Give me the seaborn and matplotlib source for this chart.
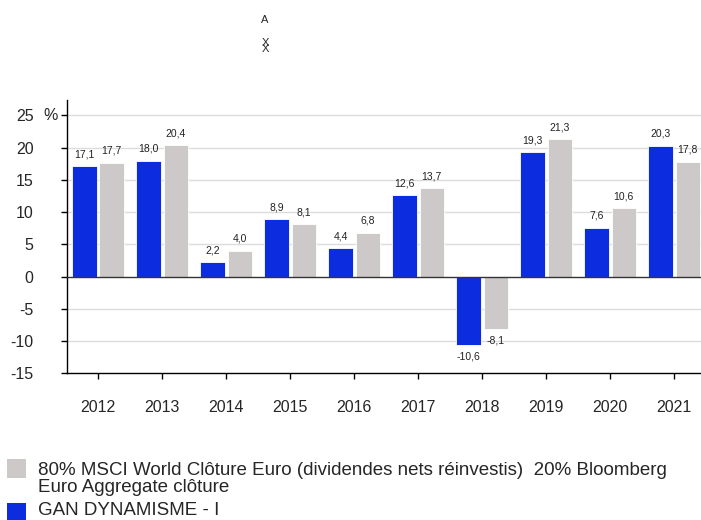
import matplotlib
matplotlib.use('Agg')
import matplotlib.pyplot as plt
import seaborn as sns
import pandas as pd
from matplotlib.patches import Rectangle

years = ['2012', '2013', '2014', '2015', '2016', '2017', '2018', '2019', '2020', '2021']
fund_name = 'GAN DYNAMISME - I'
bench_name = '80% MSCI World Clôture Euro (dividendes nets réinvestis)  20% Bloomberg\nEuro Aggregate clôture'
fund_values = [17.1, 18.0, 2.2, 8.9, 4.4, 12.6, -10.6, 19.3, 7.6, 20.3]
bench_values = [17.7, 20.4, 4.0, 8.1, 6.8, 13.7, -8.1, 21.3, 10.6, 17.8]
y_ticks = [-15, -10, -5, 0, 5, 10, 15, 20, 25]

fund_color = '#0c2ce0'
bench_color = '#cdc9c9'


def fmt(v):
    return f"{v:.1f}".replace('.', ',')


def main():
    df = pd.DataFrame({
        'Year': years * 2,
        'Value': fund_values + bench_values,
        'Series': [fund_name] * len(years) + [bench_name] * len(years),
    })

    sns.set_style('white')
    plt.rcParams['font.family'] = ['Liberation Sans', 'DejaVu Sans']

    fig = plt.figure(figsize=(7.01, 5.2), dpi=100)
    ax = fig.add_axes([0.0956, 0.2821, 0.9044, 0.5256])

    sns.barplot(data=df, x='Year', y='Value', hue='Series',
                hue_order=[fund_name, bench_name],
                palette=[fund_color, bench_color], saturation=1,
                width=0.85, gap=0.11, edgecolor='white', linewidth=0.6,
                legend=False, ax=ax, zorder=3)

    ax.set_xlim(-0.484, 9.42)
    ax.set_ylim(-15, 27.4)
    ax.set_yticks(y_ticks)
    ax.set_yticklabels([str(t) for t in y_ticks])
    ax.set_xlabel('')
    ax.set_ylabel('')

    for t in y_ticks:
        if t != 0 and t != -15:
            ax.axhline(t, color='#dcdcdc', lw=1.0, zorder=1)
    ax.axhline(0, color='#333333', lw=1.0, zorder=4)

    for side in ['top', 'right']:
        ax.spines[side].set_visible(False)
    ax.spines['left'].set_color('black')
    ax.spines['bottom'].set_color('black')
    ax.spines['left'].set_linewidth(1.0)
    ax.spines['bottom'].set_linewidth(1.0)

    ax.tick_params(axis='y', direction='out', length=4, width=1, color='black',
                   pad=20, labelsize=11.5, left=True)
    ax.tick_params(axis='x', direction='out', length=4, width=1, color='black',
                   pad=15, labelsize=11.5, bottom=True)

    labels_per_series = [[fmt(v) for v in fund_values], [fmt(v) for v in bench_values]]
    for cont, labs in zip(ax.containers, labels_per_series):
        ax.bar_label(cont, labels=labs, padding=5, fontsize=7.5, color='#222222')

    # unit marker between the tick labels and the axis
    fig.text(51 / 701, 1 - 116 / 520, '%', fontsize=11.5, ha='center', va='center')

    # stray marks at the top of the original
    fig.text(265 / 701, 1 - 20 / 520, 'A', fontsize=8, ha='center', va='center')
    fig.text(265 / 701, 1 - 46 / 520, 'X\nX', fontsize=8, ha='center', va='center',
             linespacing=0.55)

    # legend
    leg_items = [(bench_color, bench_name, 459, 462), (fund_color, fund_name, 503, 502)]
    for color, label, sq_top, txt_top in leg_items:
        fig.patches.append(Rectangle((7 / 701, 1 - (sq_top + 19) / 520), 19 / 701, 19 / 520,
                                     transform=fig.transFigure, facecolor=color,
                                     edgecolor='none'))
        fig.text(38 / 701, 1 - txt_top / 520, label, fontsize=13.5, ha='left',
                 va='top', linespacing=1.02)

    fig.savefig('out.png', dpi=100)
    plt.close(fig)


if __name__ == "__main__":
    main()
